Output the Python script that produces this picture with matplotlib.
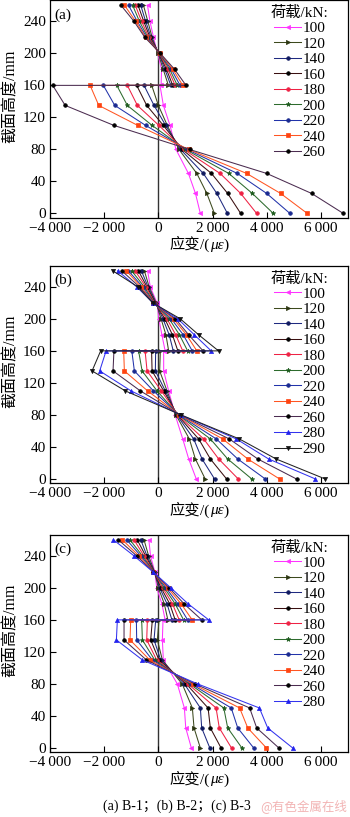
import matplotlib
matplotlib.use('Agg')
import matplotlib.pyplot as plt
from matplotlib.ticker import FuncFormatter
from matplotlib.offsetbox import TextArea, HPacker, AnchoredOffsetbox

plt.rcParams['font.family'] = ['Liberation Serif', 'Noto Sans CJK SC', 'DejaVu Sans']
plt.rcParams['font.size'] = 11

# measuring heights (mm); 160 appears twice (two gauges at that level)
heights = [0, 25, 50, 80, 110, 135, 160, 160, 180, 200, 220, 240, 260]

loads_a = [100, 120, 140, 160, 180, 200, 220, 240, 260]
strain_a = [
    [1550, 1370, 1110, 650, 430, 185, 60, 100, 120, -30, -180, -310, -400],
    [2070, 1790, 1420, 760, 330, 0, -245, 370, 180, -10, -230, -390, -550],
    [2550, 2160, 1660, 820, 270, -160, -530, 460, 240, 10, -270, -470, -650],
    [3040, 2560, 1960, 880, 185, -430, -800, 530, 300, 20, -310, -540, -750],
    [3630, 3040, 2280, 940, 20, -775, -1145, 620, 360, 30, -350, -620, -850],
    [4245, 3470, 2600, 1000, -230, -1145, -1535, 700, 420, 40, -390, -700, -950],
    [4860, 4000, 2915, 1060, -470, -1610, -2030, 800, 480, 50, -430, -780, -1100],
    [5500, 4515, 3260, 1120, -760, -2200, -2520, 900, 540, 60, -470, -840, -1250],
    [6830, 5660, 4000, 1150, -1640, -3440, -3900, 1020, 600, 70, -500, -900, -1380],
]

loads_b = [100, 120, 140, 160, 180, 200, 220, 240, 260, 280, 290]
strain_b = [
    [1400, 1120, 900, 620, 380, 196, 196, 250, 130, 20, -50, -300, -395],
    [1730, 1366, 1144, 650, 320, 48, 74, 380, 280, 100, -80, -340, -517],
    [2075, 1612, 1304, 680, 258, -111, -100, 550, 400, 170, -100, -380, -627],
    [2520, 1920, 1488, 700, 196, -232, -250, 720, 520, 240, -120, -420, -737],
    [2950, 2227, 1673, 720, 111, -417, -490, 900, 640, 320, -140, -460, -860],
    [3450, 2560, 1920, 740, -48, -600, -730, 1080, 780, 400, -160, -520, -985],
    [3948, 2930, 2140, 760, -180, -886, -980, 1250, 920, 480, -170, -580, -1107],
    [4476, 3300, 2376, 780, -395, -1255, -1280, 1420, 1040, 560, -180, -640, -1181],
    [5100, 3670, 2620, 800, -664, -1673, -1640, 1650, 1120, 630, -190, -700, -1350],
    [5800, 4070, 2880, 820, -1007, -2166, -1930, 1950, 1330, 720, -200, -800, -1498],
    [6160, 4345, 2990, 840, -1218, -2447, -2130, 2220, 1490, 810, -210, -760, -1683],
]

loads_c = [100, 120, 140, 160, 180, 200, 220, 240, 260, 280]
strain_c = [
    [1218, 1011, 960, 700, 184, 147, 172, 250, 130, -60, -130, -290, -350],
    [1550, 1317, 1255, 880, 147, -37, 25, 350, 220, 0, -140, -360, -530],
    [1900, 1600, 1550, 960, 85, -160, -98, 500, 320, 50, -150, -420, -650],
    [2315, 1919, 1835, 1030, 22, -283, -222, 620, 420, 100, -160, -470, -780],
    [2700, 2250, 2130, 1090, -63, -430, -406, 770, 520, 160, -165, -530, -900],
    [3085, 2560, 2414, 1150, -137, -590, -616, 930, 620, 220, -170, -590, -1050],
    [3520, 2930, 2690, 1210, -222, -800, -812, 1080, 720, 280, -175, -650, -1170],
    [3990, 3300, 3000, 1270, -321, -1046, -1021, 1250, 840, 340, -180, -720, -1330],
    [4450, 3630, 3370, 1350, -443, -1267, -1267, 1600, 950, 400, -190, -800, -1480],
    [4960, 4037, 3728, 1450, -590, -1550, -1513, 1860, 1100, 460, -200, -900, -1660],
]

# style per load level: line colour, marker, marker colour
styles = {
    100: ('#ff33ff', '<', '#ff33ff'),
    120: ('#3d4a1e', '>', '#2b3510'),
    140: ('#1f2a80', 'o', '#101a60'),
    160: ('#3a0f10', 'o', '#000000'),
    180: ('#ee2244', 'o', '#ee2244'),
    200: ('#2d6b2d', '*', '#1d5b1d'),
    220: ('#2233aa', 'o', '#1a2a90'),
    240: ('#ff5522', 's', '#ff4411'),
    260: ('#4b2c50', 'o', '#000000'),
    280: ('#3333ee', '^', '#2222ee'),
    290: ('#222222', 'v', '#111111'),
}

CJK = ['Noto Sans CJK SC', 'DejaVu Sans']


def fmt_x(v, pos):
    s = f'{abs(int(v)):,}'.replace(',', '\u2009')
    return ('\u2212' + s) if v < 0 else s


def draw(ax, loads, strains, tag):
    ax.axvline(0, color='#333333', lw=1.0, zorder=1)
    for load, xs in zip(loads, strains):
        col, mk, mc = styles[load]
        ms = 3.4 if mk == '*' else (3.0 if mk in '<>^vs' else 2.6)
        ax.plot(xs, heights, color=col, lw=0.75, marker=mk, ms=ms,
                mfc=mc, mec=mc, mew=0.5, label=str(load), zorder=2)
    ax.set_xlim(-4000, 7000)
    ax.set_ylim(-5, 266)
    ax.set_xticks([-4000, -2000, 0, 2000, 4000, 6000])
    ax.set_yticks(range(0, 241, 40))
    ax.xaxis.set_major_formatter(FuncFormatter(fmt_x))
    ax.tick_params(direction='in', length=4, width=0.8, labelsize=11, pad=3)
    for sp in ax.spines.values():
        sp.set_linewidth(0.9)
    ax.text(0.015, 0.965, tag, transform=ax.transAxes, ha='left', va='top', fontsize=11)
    ax.set_ylabel('截面高度/mm', fontsize=11.5, labelpad=2)
    ax.yaxis.set_label_coords(-0.105, 0.56)
    leg = ax.legend(loc='upper right', bbox_to_anchor=(0.935, 0.975), frameon=False,
                    title='荷载/kN:', title_fontsize=11, fontsize=11,
                    handlelength=1.8, handletextpad=0.1, labelspacing=0.12,
                    borderpad=0, borderaxespad=0)
    leg._legend_box.sep = 1
    # x label with italic micro-epsilon
    parts = [TextArea('应变', textprops=dict(family=CJK, size=11)),
             TextArea('/(', textprops=dict(family='Liberation Serif', size=11)),
             TextArea('με', textprops=dict(family='Liberation Serif', style='italic', size=11)),
             TextArea(')', textprops=dict(family='Liberation Serif', size=11))]
    box = HPacker(children=parts, align='baseline', pad=0, sep=0)
    lab = AnchoredOffsetbox(loc='upper center', child=box, pad=0, borderpad=0,
                            frameon=False, bbox_to_anchor=(0.5, -0.085),
                            bbox_transform=ax.transAxes)
    ax.add_artist(lab)


fig = plt.figure(figsize=(3.5, 8.17), dpi=100)
left, width, h = 50 / 350, 298 / 350, 217 / 817
ax_a = fig.add_axes([left, 1 - 217.5 / 817, width, h])
ax_b = fig.add_axes([left, 1 - 483 / 817, width, h])
ax_c = fig.add_axes([left, 1 - 752 / 817, width, h])

draw(ax_a, loads_a, strain_a, '(a)')
draw(ax_b, loads_b, strain_b, '(b)')
draw(ax_c, loads_c, strain_c, '(c)')

fig.text(177 / 350, 1 - 806 / 817, '(a) B-1；(b) B-2；(c) B-3', ha='center', va='center',
         fontsize=10, family=['Liberation Serif', 'Noto Sans CJK SC'])
fig.text(347 / 350, 1 - 806 / 817, '@有色金属在线', ha='right', va='center',
         fontsize=9, color='#f2b4b4', family=CJK)

fig.savefig('out.png', dpi=100)
